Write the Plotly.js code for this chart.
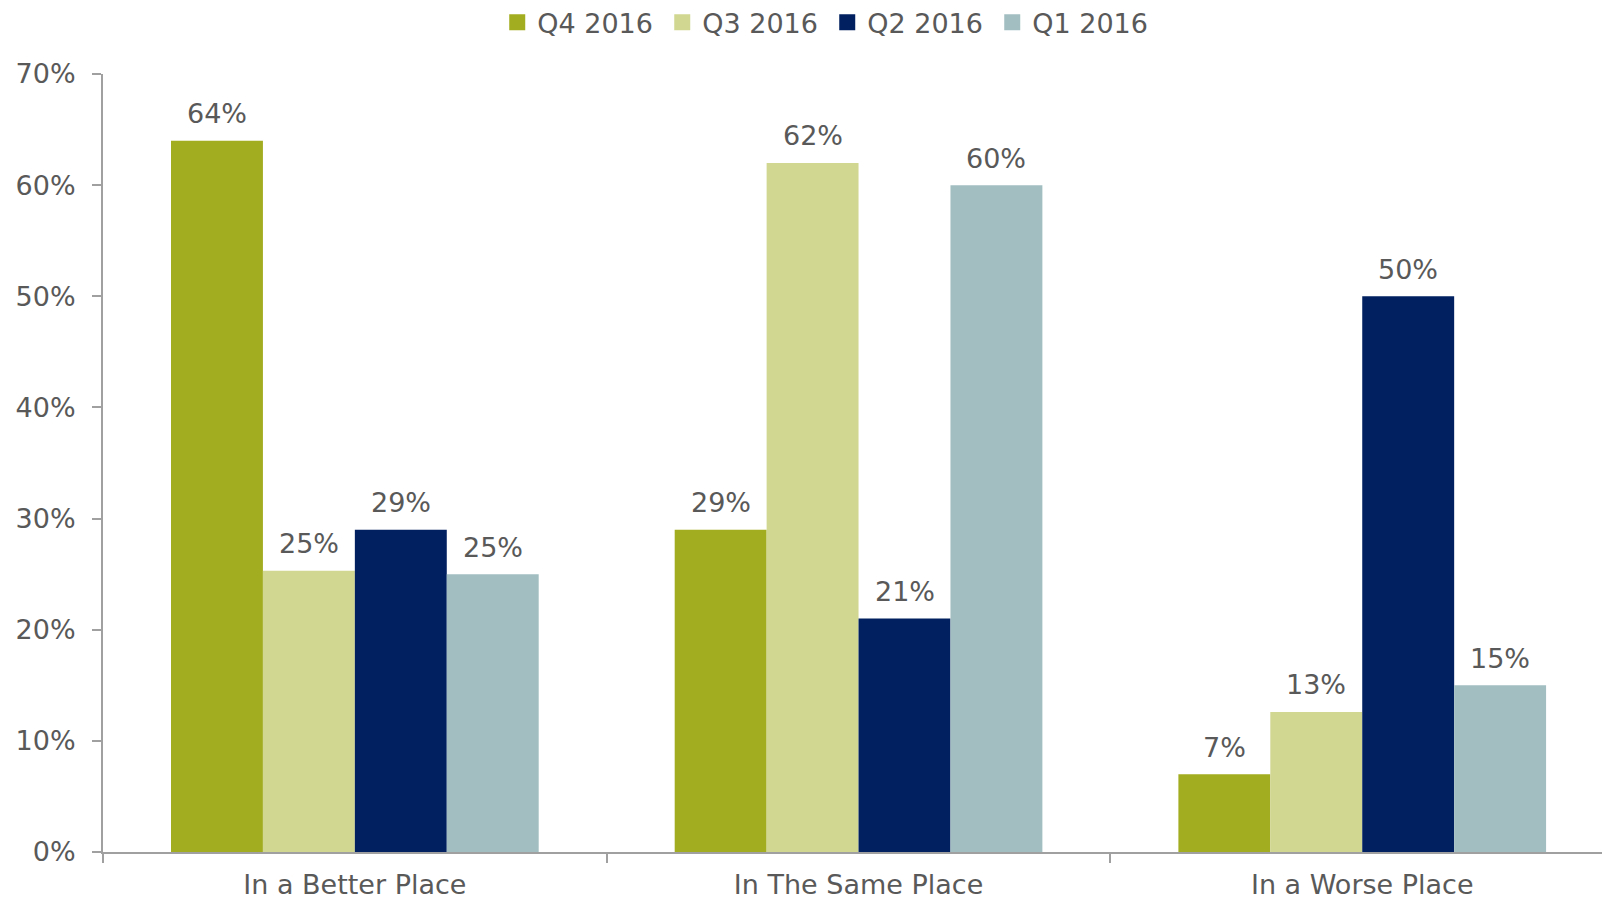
<!DOCTYPE html>
<html>
<head>
<meta charset="utf-8">
<script src="https://cdn.plot.ly/plotly-3.0.1.min.js"></script>
<style>html,body{margin:0;padding:0;overflow:hidden;background:#fff;}#chart{width:1602px;height:901px;}</style>
</head>
<body>
<div id="chart"></div>
<script>
const categories = ["In a Better Place", "In The Same Place", "In a Worse Place"];
const seriesNames = ["Q4 2016", "Q3 2016", "Q2 2016", "Q1 2016"];
const q4_2016 = [64, 29, 7];
const q3_2016 = [25.3, 62, 12.6];
const q2_2016 = [29, 21, 50];
const q1_2016 = [25, 60, 15];
const seriesColors = ["#a2ad1f", "#d1d791", "#00205f", "#a2bec1"];

const values = [q4_2016, q3_2016, q2_2016, q1_2016];
const font = "DejaVu Sans, Verdana, sans-serif";
const textColor = "#595959";
const fs = 27;
const bargap = 0.27;

const traces = values.map((v, i) => ({
  type: "bar",
  name: seriesNames[i],
  x: categories,
  y: v,
  marker: {color: seriesColors[i], line: {width: 0}},
  showlegend: false,
  hoverinfo: "skip"
}));

// legend proxies (larger square swatches)
seriesNames.forEach((n, i) => {
  traces.push({
    type: "scatter", mode: "markers", name: n,
    x: [null], y: [null],
    marker: {symbol: "square", size: 16, color: seriesColors[i]},
    showlegend: true, hoverinfo: "skip"
  });
});

// data labels, placed through the axis scales at each bar's group slot
const barW = (1 - bargap) / values.length;
const annotations = [];
values.forEach((v, i) => {
  v.forEach((val, j) => {
    annotations.push({
      x: j + (i - (values.length - 1) / 2) * barW,
      y: val,
      xref: "x", yref: "y",
      text: Math.round(val) + "%",
      showarrow: false,
      yanchor: "middle",
      yshift: 27,
      font: {family: font, size: fs, color: textColor}
    });
  });
});

const layout = {
  width: 1602, height: 901,
  margin: {l: 103, r: 0, t: 74, b: 49, pad: 0, autoexpand: false},
  paper_bgcolor: "#ffffff", plot_bgcolor: "#ffffff",
  barmode: "group", bargap: bargap, bargroupgap: 0,
  font: {family: font, size: fs, color: textColor},
  showlegend: true,
  legend: {
    orientation: "h", x: 0.263, xanchor: "left", y: 1.066, yanchor: "middle",
    font: {family: font, size: fs, color: textColor},
    entrywidth: 120, entrywidthmode: "pixels", traceorder: "normal",
    itemclick: false
  },
  annotations: annotations,
  xaxis: {
    type: "category", range: [-0.5, 2.476],
    showline: true, linecolor: "#a0a0a0", linewidth: 2,
    ticks: "outside", tickson: "boundaries", ticklen: 9, tickcolor: "#a0a0a0", tickwidth: 2,
    showgrid: false, zeroline: false,
    tickfont: {family: font, size: fs, color: textColor},
    ticklabelstandoff: 8
  },
  yaxis: {
    range: [0, 70], dtick: 10, ticksuffix: "%",
    showline: true, linecolor: "#a0a0a0", linewidth: 2,
    ticks: "outside", ticklen: 9, tickcolor: "#a0a0a0", tickwidth: 2,
    showgrid: false, zeroline: false,
    tickfont: {family: font, size: fs, color: textColor},
    ticklabelstandoff: 11
  }
};

Plotly.newPlot("chart", traces, layout, {displayModeBar: false, staticPlot: true});
</script>
</body>
</html>
